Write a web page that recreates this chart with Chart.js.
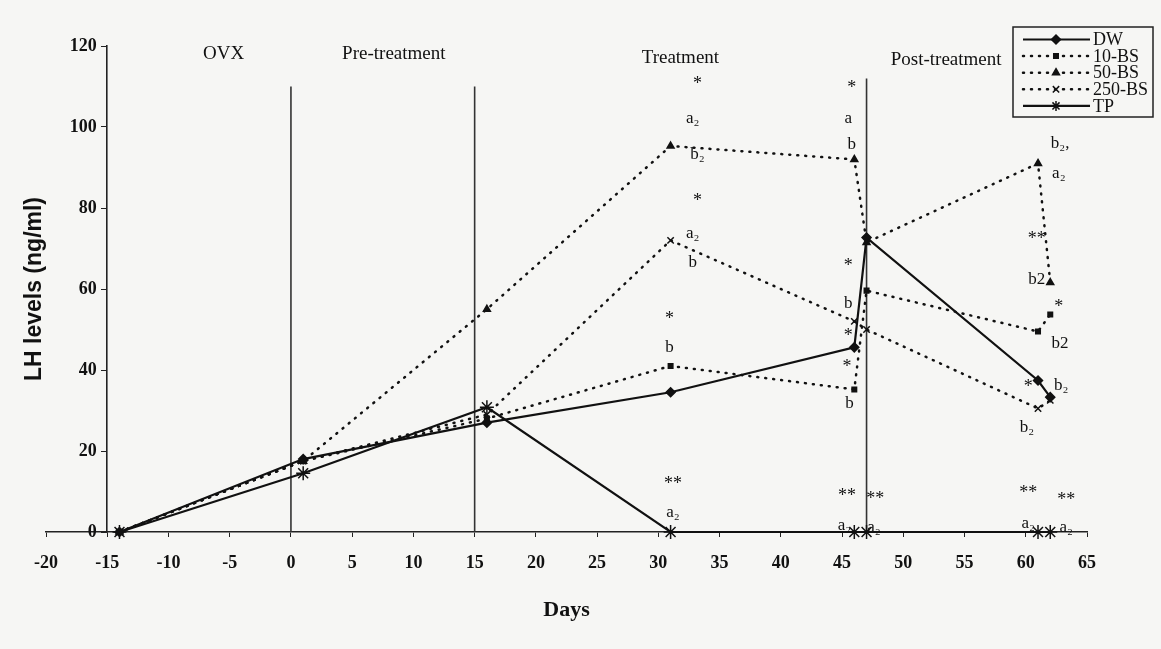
<!DOCTYPE html>
<html>
<head>
<meta charset="utf-8">
<script src="https://cdn.jsdelivr.net/npm/chart.js@4.4.0/dist/chart.umd.min.js"></script>
<style>
  body { margin: 0; background: #f6f6f4; }
  #wrap { width: 1161px; height: 649px; }
</style>
</head>
<body>
<div id="wrap"><canvas id="lh-chart" width="1161" height="649"></canvas></div>
<script>
// days on which LH was measured
const days = [-14, 1, 16, 31, 46, 47, 61, 62];

// LH levels (ng/ml) per group
const dw    = [0, 18, 27, 34.5, 45.6, 72.7, 37.4, 33.3];
const bs10  = [0, 17.5, 28, 41, 35.2, 59.6, 49.5, 53.7];
const bs50  = [0, 17.5, 55, 95.3, 92, 71.5, 91, 61.6];
const bs250 = [0, 17.5, 29, 72, 52, 50, 30.5, 32.5];
const tp    = [0, 14.5, 30.8, 0, 0, 0, 0, 0];

const seriesNames = ['DW', '10-BS', '50-BS', '250-BS', 'TP'];

// vertical lines between periods
const dividerDays = [0, 15, 47];
const dividerTops = [110, 110, 112];

const periodNames = ['OVX', 'Pre-treatment', 'Treatment', 'Post-treatment'];
const periodX = [-5.5, 8.4, 31.8, 53.5];
const periodY = [118, 118, 117, 116.5];

// significance letters and stars
const noteText = [
    '*', 'a₂', 'b₂', '*', 'a₂', 'b', '*', 'b', '**', 'a₂',
    '*', 'a', 'b', '*', 'b', '*', '*', 'b', '**', '**', 'a₂', 'a₂',
    'b₂,', 'a₂', '**', 'b2', '*', 'b2', '*', 'b₂', 'b₂', '**', '**', 'a₂', 'a₂'
];
const noteX = [
    33.2, 32.8, 33.2, 33.2, 32.8, 32.8, 30.9, 30.9, 31.2, 31.2,
    45.8, 45.5, 45.8, 45.5, 45.5, 45.5, 45.4, 45.6, 45.4, 47.7, 45.2, 47.6,
    62.8, 62.7, 60.9, 60.9, 62.7, 62.8, 60.2, 62.9, 60.1, 60.2, 63.3, 60.2, 63.3
];
const noteY = [
    111.6, 102, 93.3, 82.7, 73.6, 66.5, 53.4, 45.6, 12.8, 4.7,
    110.6, 102, 95.6, 66.5, 56.5, 49.3, 41.6, 31.8, 9.9, 9.1, 1.7, 1.2,
    95.8, 88.4, 73.2, 62.3, 56.6, 46.6, 36.7, 36.2, 25.9, 10.6, 8.9, 2.2, 1.2
];

const serif = 'Liberation Serif';
const dots = [1, 7];

function pts(ys) {
    return days.map((d, i) => ({ x: d, y: ys[i] }));
}

function series(label, ys, dashed, style, radius) {
    return {
        label: label,
        data: pts(ys),
        borderColor: '#111',
        borderWidth: dashed ? 2.5 : 2.2,
        borderDash: dashed ? dots : [],
        borderCapStyle: dashed ? 'round' : 'butt',
        pointStyle: style,
        pointRadius: radius,
        pointBackgroundColor: '#111',
        pointBorderColor: '#111',
        pointBorderWidth: 1.5,
        tension: 0,
        clip: false
    };
}

const datasets = [
    series('DW', dw, false, 'rectRot', 4.5),
    series('10-BS', bs10, true, 'rect', 3.2),
    series('50-BS', bs50, true, 'triangle', 4),
    series('250-BS', bs250, true, 'crossRot', 4.5),
    series('TP', tp, false, 'star', 7)
];

// dividers go last so they are painted underneath
dividerDays.forEach((d, i) => {
    datasets.push({
        label: '',
        data: [{ x: d, y: 0 }, { x: d, y: dividerTops[i] }],
        borderColor: '#333',
        borderWidth: 1.6,
        pointRadius: 0,
        clip: false
    });
});

const extras = {
    id: 'extras',
    afterDraw(chart) {
        const ctx = chart.ctx;
        const xs = chart.scales.x, ys = chart.scales.y;
        const area = chart.chartArea;
        ctx.save();
        ctx.fillStyle = '#111';
        ctx.textBaseline = 'middle';
        ctx.textAlign = 'center';

        // period titles
        ctx.font = '19px "' + serif + '"';
        periodNames.forEach((t, i) => {
            ctx.fillText(t, xs.getPixelForValue(periodX[i]), ys.getPixelForValue(periodY[i]));
        });

        // letters and stars
        noteText.forEach((t, i) => {
            const x = xs.getPixelForValue(noteX[i]);
            let y = ys.getPixelForValue(noteY[i]);
            if (t[0] === '*') {
                ctx.font = '18px "' + serif + '"';
                y += 4;
            } else {
                ctx.font = '17px "' + serif + '"';
            }
            ctx.fillText(t, x, y);
        });

        // y title
        ctx.font = 'bold 23px "Liberation Sans"';
        ctx.translate(35, (area.top + area.bottom) / 2);
        ctx.rotate(-Math.PI / 2);
        ctx.fillText('LH levels (ng/ml)', 0, 0);
        ctx.restore();

        // legend box
        ctx.save();
        const left = 1013, top = 27, right = 1153, bottom = 117;
        ctx.fillStyle = '#f6f6f4';
        ctx.fillRect(left, top, right - left, bottom - top);
        ctx.strokeStyle = '#222';
        ctx.lineWidth = 1.5;
        ctx.strokeRect(left, top, right - left, bottom - top);
        ctx.font = '18px "' + serif + '"';
        ctx.textBaseline = 'middle';
        seriesNames.forEach((name, i) => {
            const ds = chart.data.datasets[i];
            const y = 39.5 + i * 16.6;
            ctx.beginPath();
            ctx.setLineDash(ds.borderDash);
            ctx.lineCap = ds.borderCapStyle;
            ctx.lineWidth = ds.borderWidth;
            ctx.strokeStyle = ds.borderColor;
            ctx.moveTo(1023, y);
            ctx.lineTo(1090, y);
            ctx.stroke();
            ctx.setLineDash([]);
            ctx.lineCap = 'butt';
            ctx.fillStyle = ds.pointBackgroundColor;
            ctx.strokeStyle = ds.pointBorderColor;
            ctx.lineWidth = ds.pointBorderWidth;
            Chart.helpers.drawPoint(ctx, {
                pointStyle: ds.pointStyle,
                radius: Math.min(ds.pointRadius, 5),
                borderWidth: ds.pointBorderWidth,
                rotation: 0
            }, 1056, y);
            ctx.fillStyle = '#111';
            ctx.textAlign = 'left';
            ctx.fillText(name, 1093, y + 1);
        });
        ctx.restore();
    }
};

new Chart(document.getElementById('lh-chart'), {
    type: 'line',
    data: { datasets: datasets },
    options: {
        responsive: false,
        devicePixelRatio: 1,
        animation: false,
        events: [],
        layout: { padding: { left: 46, right: 74, top: 46, bottom: 25 } },
        plugins: {
            legend: { display: false },
            tooltip: { enabled: false }
        },
        scales: {
            x: {
                type: 'linear',
                min: -20,
                max: 65,
                ticks: {
                    stepSize: 5,
                    autoSkip: false,
                    maxRotation: 0,
                    padding: 16,
                    color: '#111',
                    font: { family: serif, size: 18, weight: 'bold' }
                },
                grid: { drawOnChartArea: false, tickLength: 5, color: '#222' },
                border: { color: '#222', width: 1.6 },
                title: {
                    display: true,
                    text: 'Days',
                    color: '#111',
                    padding: { top: 7, bottom: 0 },
                    font: { family: serif, size: 22, weight: 'bold' }
                }
            },
            y: {
                position: { x: -15 },
                min: 0,
                max: 120,
                ticks: {
                    stepSize: 20,
                    color: '#111',
                    font: { family: serif, size: 18, weight: 'bold' },
                    // labels sit flush on a crossing axis, so pad them on the right
                    callback: (v) => v + '  \u200A'
                },
                grid: { drawOnChartArea: false, tickLength: 5, color: '#222' },
                border: { color: '#222', width: 1.6 }
            }
        }
    },
    plugins: [extras]
});
</script>
</body>
</html>
